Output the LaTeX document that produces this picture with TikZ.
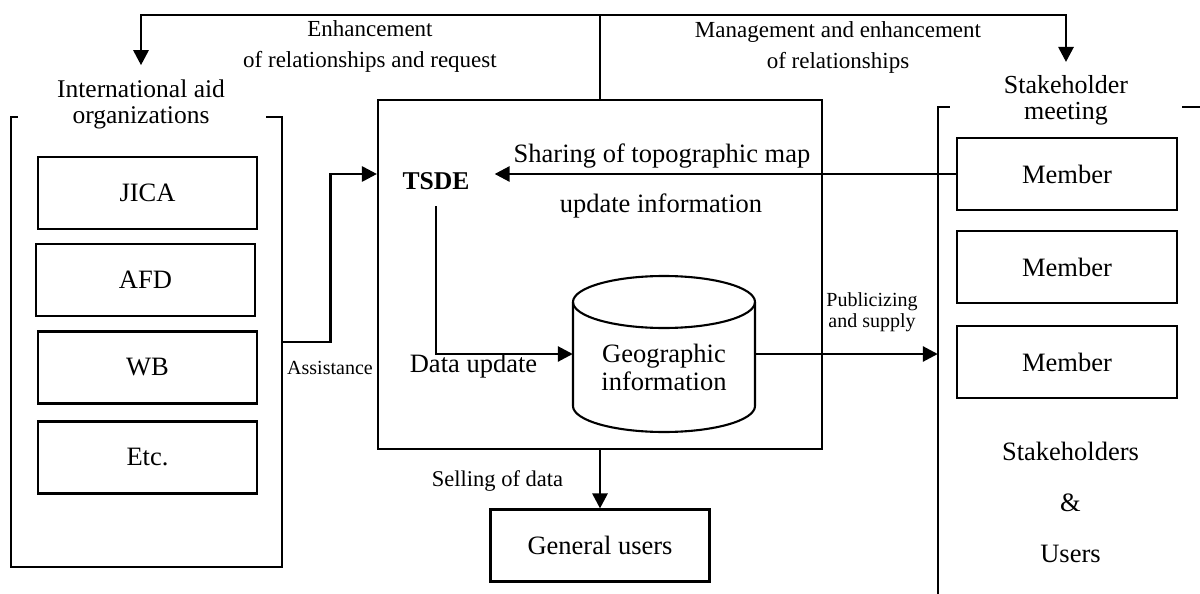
\documentclass[tikz,border=0pt]{standalone}
\usepackage{fontspec}
\setmainfont{Liberation Serif}
\usetikzlibrary{arrows.meta}
\newcommand\fsz[2]{\fontsize{#1pt}{#2pt}\selectfont}
\begin{document}
\begin{tikzpicture}[x=1pt,y=-1pt,
 box/.style={draw, line width=2.1pt, minimum width=219pt, minimum height=72pt, inner sep=0pt, font=\fsz{26.5}{28}},
 frame/.style={line width=2.1pt},
 conn/.style={line width=2.8pt},
 arrow/.style={conn,-{Triangle[length=15pt,width=15pt]}},
 lbl/.style={inner sep=0pt, align=center}]
\useasboundingbox (0,0) rectangle (1200,594);
\clip (0,0) rectangle (1200,594);

% titles and top labels
\node[lbl, font=\fsz{23}{31}] (enh) at (370,46) {Enhancement\\of relationships and request};
\node[lbl, font=\fsz{23}{31}] (mgmt) at (838,47) {Management and enhancement\\of relationships};
\node[lbl, font=\fsz{25.5}{26}] (orgtitle) at (141,104) {International aid\\organizations};
\node[lbl, font=\fsz{26}{26}] (staketitle) at (1066,100) {Stakeholder\\meeting};

% international aid organizations group
\node[minimum width=271pt, minimum height=450pt, inner sep=0pt] (orgs) at (146.5,342) {};
\draw[frame] ([xshift=7pt]orgs.north west) -- (orgs.north west) -- (orgs.south west)
  -- (orgs.south east) -- (orgs.north east) -- ([xshift=-16pt]orgs.north east);
\node[box] (jica) at (147.5,193) {JICA};
\node[box] (afd) at (145.5,280) {AFD};
\node[box] (wb) at (147.5,367.5) {WB};
\node[box] (etc) at (147.5,457.5) {Etc.};

% central TSDE box
\node[draw, line width=2.1pt, minimum width=444pt, minimum height=349pt, inner sep=0pt] (tsdebox) at (600,274.5) {};
\node[font=\fsz{25.6}{26}\bfseries, inner xsep=25pt, inner ysep=17pt, anchor=base] (tsde) at (436,189) {TSDE};
\node[lbl, font=\fsz{26.5}{28}, anchor=base] (share1) at (662,162) {Sharing of topographic map};
\node[lbl, font=\fsz{26.5}{28}, anchor=base] (share2) at (661,212) {update information};
\node[lbl, font=\fsz{26.5}{28}, anchor=base] (dupd) at (473.5,372) {Data update};

% cylinder
\node[minimum width=182pt, minimum height=156pt, inner sep=0pt] (geo) at (664,354) {};
\draw[frame] (664,302) ellipse [x radius=91pt, y radius=26pt];
\draw[frame] (573,302) -- (573,406) arc[start angle=180, end angle=360, x radius=91pt, y radius=26pt] -- (755,302);
\node[lbl, font=\fsz{26.5}{28}] (geotext) at (664,367) {Geographic\\information};

% small labels
\node[lbl, font=\fsz{20}{21}] (pub) at (872,312) {Publicizing\\and supply};
\node[lbl, font=\fsz{20}{20}, anchor=base] (assist) at (330,374) {Assistance};
\node[lbl, font=\fsz{22.5}{23}, anchor=base] (sell) at (497.5,486) {Selling of data};
\node[box] (gu) at (600,545.5) {General users};

% stakeholder group
\node[minimum width=292pt, minimum height=513pt, inner sep=0pt] (stake) at (1084,363.5) {};
\draw[frame] ([xshift=12pt]stake.north west) -- (stake.north west) -- (stake.south west);
\draw[frame] (stake.north east) -- ([xshift=-48pt]stake.north east);
\node[box, minimum width=220pt] (m1) at (1067,174) {Member};
\node[box, minimum width=220pt] (m2) at (1067,267) {Member};
\node[box, minimum width=220pt] (m3) at (1067,362) {Member};
\node[lbl, font=\fsz{26.5}{51}] (users) at (1070.5,502) {Stakeholders\\\&\\Users};

% connectors
\coordinate (topc) at (600,15);
\draw[conn] (tsdebox.north) -- (topc);
\draw[arrow] (topc) -| ([yshift=14pt]orgtitle.north);
\draw[arrow] (topc) -| ([yshift=13pt]staketitle.north);
\draw[arrow] (orgs.east) -- ++(48,0) |- (tsdebox.west |- m1.west);
\draw[arrow] (m1.west) -- (m1.west -| tsde.east);
\draw[arrow] (tsde.south) |- (geo.west);
\draw[arrow] (geo.east) -- (geo.east -| stake.west);
\draw[arrow] (tsdebox.south) -- (gu.north);
\end{tikzpicture}
\end{document}
